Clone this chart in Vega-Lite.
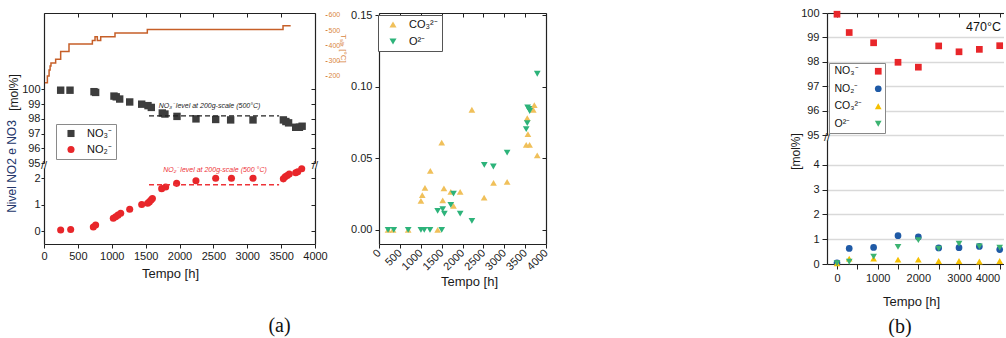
{
  "$schema": "https://vega.github.io/schema/vega-lite/v6.json",
  "background": "white",
  "padding": {"left": 5, "top": 7, "right": 0, "bottom": 0},
  "config": {
    "font": "Liberation Sans",
    "view": {"stroke": null},
    "axis": {"labelFont": "Liberation Sans", "labelFontSize": 11, "labelColor": "#1a1a1a", "titleFont": "Liberation Sans", "titleFontSize": 13, "titleFontWeight": "normal", "titleColor": "#1a1a1a", "domainColor": "#222", "domainWidth": 1.2, "tickColor": "#222", "tickWidth": 1, "tickSize": 4, "grid": false, "labelFlush": false, "labelOverlap": false},
    "axisX": {"titleFontWeight": "normal"},
    "axisY": {"titleFontWeight": "normal"},
    "legend": {"labelFont": "Liberation Sans", "labelFontSize": 11, "labelColor": "#111"}
  },
  "datasets": {
    "l_no3": [
      {"t": 246, "v": 99.95, "s": "NO₃⁻"}, {"t": 384, "v": 99.95, "s": "NO₃⁻"}, {"t": 738, "v": 99.85, "s": "NO₃⁻"}, {"t": 762, "v": 99.8, "s": "NO₃⁻"},
      {"t": 1033, "v": 99.55, "s": "NO₃⁻"}, {"t": 1066, "v": 99.5, "s": "NO₃⁻"}, {"t": 1117, "v": 99.35, "s": "NO₃⁻"}, {"t": 1265, "v": 99.15, "s": "NO₃⁻"},
      {"t": 1442, "v": 99.0, "s": "NO₃⁻"}, {"t": 1535, "v": 98.9, "s": "NO₃⁻"}, {"t": 1584, "v": 98.78, "s": "NO₃⁻"}, {"t": 1746, "v": 98.4, "s": "NO₃⁻"},
      {"t": 1785, "v": 98.33, "s": "NO₃⁻"}, {"t": 1963, "v": 98.17, "s": "NO₃⁻"}, {"t": 2243, "v": 98.0, "s": "NO₃⁻"}, {"t": 2534, "v": 97.96, "s": "NO₃⁻"},
      {"t": 2755, "v": 97.93, "s": "NO₃⁻"}, {"t": 3085, "v": 97.93, "s": "NO₃⁻"}, {"t": 3533, "v": 97.93, "s": "NO₃⁻"}, {"t": 3570, "v": 97.82, "s": "NO₃⁻"},
      {"t": 3610, "v": 97.73, "s": "NO₃⁻"}, {"t": 3715, "v": 97.43, "s": "NO₃⁻"}, {"t": 3770, "v": 97.43, "s": "NO₃⁻"}, {"t": 3810, "v": 97.5, "s": "NO₃⁻"}
    ],
    "l_no2": [
      {"t": 246, "v": 0.04}, {"t": 394, "v": 0.06}, {"t": 728, "v": 0.15}, {"t": 762, "v": 0.23}, {"t": 1023, "v": 0.48}, {"t": 1058, "v": 0.54},
      {"t": 1092, "v": 0.6}, {"t": 1132, "v": 0.67}, {"t": 1265, "v": 0.82}, {"t": 1442, "v": 1.0}, {"t": 1530, "v": 1.05}, {"t": 1555, "v": 1.1},
      {"t": 1580, "v": 1.17}, {"t": 1600, "v": 1.23}, {"t": 1737, "v": 1.6}, {"t": 1796, "v": 1.66}, {"t": 1958, "v": 1.8}, {"t": 2243, "v": 1.9},
      {"t": 2534, "v": 1.99}, {"t": 2767, "v": 1.99}, {"t": 3085, "v": 1.99}, {"t": 3533, "v": 1.97}, {"t": 3560, "v": 2.05}, {"t": 3590, "v": 2.1},
      {"t": 3620, "v": 2.15}, {"t": 3715, "v": 2.2}, {"t": 3745, "v": 2.24}, {"t": 3804, "v": 2.35}
    ],
    "temp": [
      {"t": 15, "T": 156}, {"t": 50, "T": 200}, {"t": 75, "T": 240}, {"t": 90, "T": 265}, {"t": 103, "T": 285}, {"t": 172, "T": 310},
      {"t": 246, "T": 360}, {"t": 369, "T": 410}, {"t": 714, "T": 432}, {"t": 753, "T": 458}, {"t": 787, "T": 432}, {"t": 837, "T": 458},
      {"t": 1048, "T": 482}, {"t": 1525, "T": 505}, {"t": 3528, "T": 530}, {"t": 3641, "T": 530}
    ],
    "l_ref3": [{"t1": 1550, "t2": 3470, "v": 98.2}],
    "l_ref2": [{"t1": 1550, "t2": 3470, "v": 1.75}],
    "l_lab3": [{"t": 2443, "v": 98.9, "label": "NO₃⁻ level at 200g-scale (500°C)"}],
    "l_lab2": [{"t": 2524, "v": 2.3, "label": "NO₂⁻ level at 200g-scale (500 °C)"}],
    "l_brk": [{"t": 0, "v": 95}, {"t": 4000, "v": 95}],
    "r_brk": [{"t": -246, "v": 95}],
    "m_co3": [
      {"t": 217, "v": 0, "s": "CO₃²⁻"}, {"t": 337, "v": 0, "s": "CO₃²⁻"}, {"t": 699, "v": 0, "s": "CO₃²⁻"}, {"t": 1405, "v": 0, "s": "CO₃²⁻"},
      {"t": 1004, "v": 0.0203, "s": "CO₃²⁻"}, {"t": 1036, "v": 0.0243, "s": "CO₃²⁻"}, {"t": 1101, "v": 0.0293, "s": "CO₃²⁻"}, {"t": 1229, "v": 0.0412, "s": "CO₃²⁻"},
      {"t": 1502, "v": 0.061, "s": "CO₃²⁻"}, {"t": 1526, "v": 0.0207, "s": "CO₃²⁻"}, {"t": 1555, "v": 0.029, "s": "CO₃²⁻"}, {"t": 1719, "v": 0.0266, "s": "CO₃²⁻"},
      {"t": 1784, "v": 0.0168, "s": "CO₃²⁻"}, {"t": 1944, "v": 0.0266, "s": "CO₃²⁻"}, {"t": 2225, "v": 0.0839, "s": "CO₃²⁻"}, {"t": 2518, "v": 0.0226, "s": "CO₃²⁻"},
      {"t": 2743, "v": 0.0328, "s": "CO₃²⁻"}, {"t": 3069, "v": 0.0335, "s": "CO₃²⁻"}, {"t": 3526, "v": 0.0594, "s": "CO₃²⁻"}, {"t": 3551, "v": 0.078, "s": "CO₃²⁻"},
      {"t": 3567, "v": 0.0669, "s": "CO₃²⁻"}, {"t": 3607, "v": 0.0594, "s": "CO₃²⁻"}, {"t": 3695, "v": 0.0839, "s": "CO₃²⁻"}, {"t": 3720, "v": 0.0871, "s": "CO₃²⁻"},
      {"t": 3790, "v": 0.052, "s": "CO₃²⁻"}
    ],
    "m_o2": [
      {"t": 217, "v": 0, "s": "O²⁻"}, {"t": 354, "v": 0, "s": "O²⁻"}, {"t": 699, "v": 0, "s": "O²⁻"}, {"t": 1004, "v": 0, "s": "O²⁻"},
      {"t": 1084, "v": 0, "s": "O²⁻"}, {"t": 1221, "v": 0, "s": "O²⁻"}, {"t": 1502, "v": 0, "s": "O²⁻"}, {"t": 1405, "v": 0.0133, "s": "O²⁻"},
      {"t": 1526, "v": 0.0145, "s": "O²⁻"}, {"t": 1566, "v": 0.0114, "s": "O²⁻"}, {"t": 1719, "v": 0.0175, "s": "O²⁻"}, {"t": 1784, "v": 0.0254, "s": "O²⁻"},
      {"t": 1944, "v": 0.0114, "s": "O²⁻"}, {"t": 2225, "v": 0.0063, "s": "O²⁻"}, {"t": 2522, "v": 0.0454, "s": "O²⁻"}, {"t": 2739, "v": 0.0443, "s": "O²⁻"},
      {"t": 3069, "v": 0.054, "s": "O²⁻"}, {"t": 3526, "v": 0.0704, "s": "O²⁻"}, {"t": 3551, "v": 0.0746, "s": "O²⁻"}, {"t": 3560, "v": 0.0855, "s": "O²⁻"},
      {"t": 3591, "v": 0.0844, "s": "O²⁻"}, {"t": 3610, "v": 0.083, "s": "O²⁻"}, {"t": 3791, "v": 0.109, "s": "O²⁻"}
    ],
    "r_no3": [
      {"t": 0, "v": 99.95, "s": "NO₃⁻"}, {"t": 300, "v": 99.2, "s": "NO₃⁻"}, {"t": 900, "v": 98.78, "s": "NO₃⁻"}, {"t": 1500, "v": 97.98, "s": "NO₃⁻"},
      {"t": 2000, "v": 97.78, "s": "NO₃⁻"}, {"t": 2500, "v": 98.65, "s": "NO₃⁻"}, {"t": 3000, "v": 98.41, "s": "NO₃⁻"}, {"t": 3500, "v": 98.51, "s": "NO₃⁻"},
      {"t": 4000, "v": 98.66, "s": "NO₃⁻"}
    ],
    "r_low": [
      {"t": 0, "v": 0.05, "s": "NO₂⁻"}, {"t": 300, "v": 0.63, "s": "NO₂⁻"}, {"t": 900, "v": 0.67, "s": "NO₂⁻"}, {"t": 1500, "v": 1.14, "s": "NO₂⁻"}, {"t": 2000, "v": 1.09, "s": "NO₂⁻"},
      {"t": 2500, "v": 0.65, "s": "NO₂⁻"}, {"t": 3000, "v": 0.66, "s": "NO₂⁻"}, {"t": 3500, "v": 0.71, "s": "NO₂⁻"}, {"t": 4000, "v": 0.58, "s": "NO₂⁻"},
      {"t": 0, "v": 0.03, "s": "CO₃²⁻"}, {"t": 300, "v": 0.22, "s": "CO₃²⁻"}, {"t": 900, "v": 0.22, "s": "CO₃²⁻"}, {"t": 1500, "v": 0.18, "s": "CO₃²⁻"}, {"t": 2000, "v": 0.18, "s": "CO₃²⁻"},
      {"t": 2500, "v": 0.12, "s": "CO₃²⁻"}, {"t": 3000, "v": 0.12, "s": "CO₃²⁻"}, {"t": 3500, "v": 0.1, "s": "CO₃²⁻"}, {"t": 4000, "v": 0.12, "s": "CO₃²⁻"},
      {"t": 0, "v": 0.03, "s": "O²⁻"}, {"t": 300, "v": 0.09, "s": "O²⁻"}, {"t": 900, "v": 0.3, "s": "O²⁻"}, {"t": 1500, "v": 0.69, "s": "O²⁻"}, {"t": 2000, "v": 0.96, "s": "O²⁻"},
      {"t": 2500, "v": 0.62, "s": "O²⁻"}, {"t": 3000, "v": 0.82, "s": "O²⁻"}, {"t": 3500, "v": 0.71, "s": "O²⁻"}, {"t": 4000, "v": 0.66, "s": "O²⁻"}
    ]
  },
  "bounds": "flush",
  "spacing": 783,
  "resolve": {"scale": {"color": "independent", "shape": "independent"}},
  "hconcat": [
    {
      "bounds": "flush",
      "spacing": 335,
      "resolve": {"scale": {"color": "independent", "shape": "independent"}},
      "hconcat": [
        {
          "bounds": "flush",
          "spacing": 5,
          "resolve": {"scale": {"color": "independent", "shape": "independent"}},
          "vconcat": [
            {
              "width": 271, "height": 150,
              "layer": [
                {
                  "layer": [
                    {
                      "data": {"name": "l_no3"},
                      "mark": {"type": "point", "filled": true, "size": 55, "opacity": 1},
                      "encoding": {
                        "x": {"field": "t", "type": "quantitative", "scale": {"domain": [0, 4000], "nice": false}, "axis": {"orient": "top", "labels": false, "title": null, "values": [0, 500, 1000, 1500, 2000, 2500, 3000, 3500, 4000], "tickSize": -4}},
                        "y": {"field": "v", "type": "quantitative", "scale": {"domain": [95, 105.2], "nice": false, "zero": false}, "axis": {"orient": "left", "values": [95, 96, 97, 98, 99, 100], "tickSize": 3, "labelPadding": 1, "title": "[mol%]", "titleFontSize": 12, "titleFontWeight": "normal", "titleAngle": -90, "titleBaseline": "bottom", "titleAlign": "center", "titleX": -24, "titleY": 79}},
                        "color": {"field": "s", "type": "nominal", "scale": {"domain": ["NO₃⁻", "NO₂⁻"], "range": ["#3d3d3d", "#e8262a"]}, "legend": {"orient": "none", "legendX": 12, "legendY": 111, "title": null, "strokeColor": "#8a8a8a", "fillColor": "white", "padding": 4, "symbolOffset": 5.5, "labelOffset": 10.5, "rowPadding": 4, "symbolSize": 50, "symbolStrokeWidth": 0}},
                        "shape": {"field": "s", "type": "nominal", "scale": {"domain": ["NO₃⁻", "NO₂⁻"], "range": ["square", "circle"]}, "legend": {"orient": "none", "legendX": 12, "legendY": 111, "title": null, "strokeColor": "#8a8a8a", "fillColor": "white", "padding": 4, "symbolOffset": 5.5, "labelOffset": 10.5, "rowPadding": 4, "symbolSize": 50, "symbolStrokeWidth": 0}}
                      }
                    },
                    {
                      "data": {"name": "l_ref3"},
                      "mark": {"type": "rule", "strokeDash": [5, 3], "color": "#222", "strokeWidth": 1.3},
                      "encoding": {
                        "x": {"field": "t1", "type": "quantitative", "scale": {"domain": [0, 4000], "nice": false}, "axis": null},
                        "x2": {"field": "t2"},
                        "y": {"field": "v", "type": "quantitative", "scale": {"domain": [95, 105.2], "nice": false, "zero": false}, "axis": {"orient": "right", "labels": false, "title": null, "values": [95, 96, 97, 98, 99, 100], "tickSize": -4}}
                      }
                    },
                    {
                      "data": {"name": "l_lab3"},
                      "mark": {"type": "text", "fontStyle": "italic", "fontSize": 7, "color": "#222"},
                      "encoding": {
                        "x": {"field": "t", "type": "quantitative", "scale": {"domain": [0, 4000], "nice": false}, "axis": null},
                        "y": {"field": "v", "type": "quantitative", "scale": {"domain": [95, 105.2], "nice": false, "zero": false}, "axis": null},
                        "text": {"field": "label"}
                      }
                    },
                    {
                      "data": {"name": "l_brk"},
                      "mark": {"type": "text", "text": "//", "fontSize": 11, "color": "#222", "baseline": "middle", "dy": 3},
                      "encoding": {
                        "x": {"field": "t", "type": "quantitative", "scale": {"domain": [0, 4000], "nice": false}, "axis": null},
                        "y": {"field": "v", "type": "quantitative", "scale": {"domain": [95, 105.2], "nice": false, "zero": false}, "axis": null}
                      }
                    }
                  ],
                  "resolve": {"axis": {"x": "independent", "y": "independent"}}
                },
                {
                  "data": {"name": "temp"},
                  "mark": {"type": "line", "interpolate": "step-after", "color": "#c65f28", "strokeWidth": 1.5},
                  "encoding": {
                    "x": {"field": "t", "type": "quantitative", "scale": {"domain": [0, 4000], "nice": false}, "axis": null},
                    "y": {"field": "T", "type": "quantitative", "scale": {"domain": [-370.5, 613.1], "nice": false, "zero": false}, "axis": {"orient": "right", "offset": 10, "values": [200, 300, 400, 500, 600], "domain": false, "tickColor": "#d9863f", "labelColor": "#d9863f", "labelFontSize": 7, "tickSize": 2, "labelPadding": 1, "title": "Tₛₐₗₜ [°C]", "titleColor": "#d9863f", "titleFontSize": 8, "titleFontWeight": "normal", "titleAngle": 90, "titleX": 17, "titleY": 35, "titleBaseline": "middle", "titleAlign": "center"}}
                  }
                }
              ],
              "resolve": {"scale": {"y": "independent"}, "axis": {"x": "independent", "y": "independent"}}
            },
            {
              "width": 271, "height": 76,
              "title": {"text": "(a)", "orient": "bottom", "frame": "group", "anchor": "middle", "font": "Liberation Serif", "fontSize": 20, "fontWeight": "normal", "color": "#111", "offset": 36, "dx": 100},
              "layer": [
                {
                  "data": {"name": "l_no2"},
                  "mark": {"type": "point", "filled": true, "shape": "circle", "size": 50, "color": "#e8262a", "opacity": 1},
                  "encoding": {
                    "x": {"field": "t", "type": "quantitative", "scale": {"domain": [0, 4000], "nice": false}, "axis": {"orient": "bottom", "values": [0, 500, 1000, 1500, 2000, 2500, 3000, 3500, 4000], "format": "d", "tickSize": 4, "labelPadding": 2, "title": "Tempo [h]", "titleFontWeight": "normal", "titleX": 126, "titlePadding": 6}},
                    "y": {"field": "v", "type": "quantitative", "scale": {"domain": [-0.49, 2.38], "nice": false, "zero": false}, "axis": {"orient": "left", "values": [0, 1, 2], "tickSize": 3, "labelPadding": 1, "title": "Nivel NO2 e NO3", "titleColor": "#24366b", "titleFontSize": 12, "titleFontWeight": "normal", "titleAngle": -90, "titleBaseline": "bottom", "titleAlign": "center", "titleX": -26, "titleY": -2}}
                  }
                },
                {
                  "data": {"name": "l_ref2"},
                  "mark": {"type": "rule", "strokeDash": [5, 3], "color": "#ee3338", "strokeWidth": 1.5},
                  "encoding": {
                    "x": {"field": "t1", "type": "quantitative", "scale": {"domain": [0, 4000], "nice": false}, "axis": null},
                    "x2": {"field": "t2"},
                    "y": {"field": "v", "type": "quantitative", "scale": {"domain": [-0.49, 2.38], "nice": false, "zero": false}, "axis": {"orient": "right", "labels": false, "title": null, "values": [0, 1, 2], "tickSize": -4}}
                  }
                },
                {
                  "data": {"name": "l_lab2"},
                  "mark": {"type": "text", "fontStyle": "italic", "fontSize": 7, "color": "#ee3338"},
                  "encoding": {
                    "x": {"field": "t", "type": "quantitative", "scale": {"domain": [0, 4000], "nice": false}, "axis": null},
                    "y": {"field": "v", "type": "quantitative", "scale": {"domain": [-0.49, 2.38], "nice": false, "zero": false}, "axis": null},
                    "text": {"field": "label"}
                  }
                }
              ],
              "resolve": {"axis": {"x": "independent", "y": "independent"}}
            }
          ]
        },
        {
          "width": 167, "height": 231,
          "layer": [
            {
              "data": {"name": "m_co3"},
              "mark": {"type": "point", "filled": true, "size": 45, "opacity": 1},
              "encoding": {
                "x": {"field": "t", "type": "quantitative", "scale": {"domain": [0, 4000], "nice": false}, "axis": {"orient": "bottom", "values": [0, 500, 1000, 1500, 2000, 2500, 3000, 3500, 4000], "format": "d", "labelAngle": -45, "labelAlign": "right", "labelBaseline": "middle", "labelPadding": 3, "title": "Tempo [h]", "titleFontWeight": "normal", "titleX": 90}},
                "y": {"field": "v", "type": "quantitative", "scale": {"domain": [-0.0098, 0.1514], "nice": false, "zero": false}, "axis": {"orient": "left", "values": [0, 0.05, 0.1, 0.15], "format": ".2f", "tickSize": 4, "labelPadding": 3, "title": null}},
                "color": {"field": "s", "type": "nominal", "scale": {"domain": ["CO₃²⁻", "O²⁻"], "range": ["#f0c05a", "#2db37a"]}, "legend": {"orient": "none", "legendX": -1, "legendY": 2, "title": null, "strokeColor": "#555", "fillColor": "white", "padding": 4, "symbolOffset": 5.5, "labelOffset": 10.5, "rowPadding": 5, "symbolSize": 50, "symbolStrokeWidth": 0}},
                "shape": {"field": "s", "type": "nominal", "scale": {"domain": ["CO₃²⁻", "O²⁻"], "range": ["triangle-up", "triangle-down"]}, "legend": {"orient": "none", "legendX": -1, "legendY": 2, "title": null, "strokeColor": "#555", "fillColor": "white", "padding": 4, "symbolOffset": 5.5, "labelOffset": 10.5, "rowPadding": 5, "symbolSize": 50, "symbolStrokeWidth": 0}}
              }
            },
            {
              "data": {"name": "m_o2"},
              "mark": {"type": "point", "filled": true, "size": 45, "opacity": 1},
              "encoding": {
                "x": {"field": "t", "type": "quantitative", "scale": {"domain": [0, 4000], "nice": false}, "axis": {"orient": "top", "labels": false, "title": null, "values": [0, 500, 1000, 1500, 2000, 2500, 3000, 3500, 4000], "tickSize": -4}},
                "y": {"field": "v", "type": "quantitative", "scale": {"domain": [-0.0098, 0.1514], "nice": false, "zero": false}, "axis": {"orient": "right", "labels": false, "title": null, "values": [0, 0.05, 0.1, 0.15], "tickSize": -4}},
                "color": {"field": "s", "type": "nominal", "scale": {"domain": ["CO₃²⁻", "O²⁻"], "range": ["#f0c05a", "#2db37a"]}, "legend": {"orient": "none", "legendX": -1, "legendY": 2, "title": null, "strokeColor": "#555", "fillColor": "white", "padding": 4, "symbolOffset": 5.5, "labelOffset": 10.5, "rowPadding": 5, "symbolSize": 50, "symbolStrokeWidth": 0}},
                "shape": {"field": "s", "type": "nominal", "scale": {"domain": ["CO₃²⁻", "O²⁻"], "range": ["triangle-up", "triangle-down"]}, "legend": {"orient": "none", "legendX": -1, "legendY": 2, "title": null, "strokeColor": "#555", "fillColor": "white", "padding": 4, "symbolOffset": 5.5, "labelOffset": 10.5, "rowPadding": 5, "symbolSize": 50, "symbolStrokeWidth": 0}}
              }
            }
          ],
          "resolve": {"axis": {"x": "independent", "y": "independent"}}
        }
      ]
    },
    {
      "bounds": "flush",
      "spacing": 5,
      "resolve": {"scale": {"color": "independent", "shape": "independent"}},
      "vconcat": [
        {
          "width": 177, "height": 122,
          "layer": [
            {
              "data": {"name": "r_no3"},
              "mark": {"type": "point", "filled": true, "size": 45, "opacity": 1},
              "encoding": {
                "x": {"field": "t", "type": "quantitative", "scale": {"domain": [-246, 4106], "nice": false, "zero": false}, "axis": {"orient": "top", "labels": false, "values": [0, 500, 1000, 1500, 2000, 2500, 3000, 3500, 4000], "tickSize": -4, "title": "470°C", "titleFontSize": 12.5, "titleFontWeight": "normal", "titleColor": "#111", "titleAngle": 0, "titleX": 156, "titleY": 13, "titleAlign": "center", "titleBaseline": "middle"}},
                "y": {"field": "v", "type": "quantitative", "scale": {"domain": [95, 100], "nice": false, "zero": false}, "axis": {"orient": "left", "values": [95, 96, 97, 98, 99, 100], "grid": true, "gridColor": "#d9d9d9", "gridWidth": 1.5, "tickSize": 5, "labelPadding": 3, "title": null}},
                "color": {"field": "s", "type": "nominal", "scale": {"domain": ["NO₃⁻", "NO₂⁻", "CO₃²⁻", "O²⁻"], "range": ["#e8262a", "#1f5aa6", "#f5c000", "#3cb371"]}, "legend": {"orient": "none", "legendX": 2, "legendY": 50, "title": null, "strokeColor": "#888", "fillColor": "white", "padding": 3, "symbolOffset": 41, "labelOffset": -49, "rowPadding": 6.5, "symbolSize": 45, "symbolStrokeWidth": 0, "labelFontSize": 10.5}},
                "shape": {"field": "s", "type": "nominal", "scale": {"domain": ["NO₃⁻", "NO₂⁻", "CO₃²⁻", "O²⁻"], "range": ["square", "circle", "triangle-up", "triangle-down"]}, "legend": {"orient": "none", "legendX": 2, "legendY": 50, "title": null, "strokeColor": "#888", "fillColor": "white", "padding": 3, "symbolOffset": 41, "labelOffset": -49, "rowPadding": 6.5, "symbolSize": 45, "symbolStrokeWidth": 0, "labelFontSize": 10.5}}
              }
            },
            {
              "data": {"name": "r_brk"},
              "mark": {"type": "text", "text": "//", "fontSize": 11, "color": "#222", "baseline": "middle", "dy": 3},
              "encoding": {
                "x": {"field": "t", "type": "quantitative", "scale": {"domain": [-246, 4106], "nice": false, "zero": false}, "axis": null},
                "y": {"field": "v", "type": "quantitative", "scale": {"domain": [95, 100], "nice": false, "zero": false}, "axis": null}
              }
            }
          ],
          "resolve": {"axis": {"x": "independent", "y": "independent"}}
        },
        {
          "width": 177, "height": 124,
          "title": {"text": "(b)", "orient": "bottom", "frame": "group", "anchor": "middle", "font": "Liberation Serif", "fontSize": 20, "fontWeight": "normal", "color": "#111", "offset": 9, "dx": -15.5},
          "data": {"name": "r_low"},
          "mark": {"type": "point", "filled": true, "size": 45, "opacity": 1},
          "encoding": {
            "x": {"field": "t", "type": "quantitative", "scale": {"domain": [-246, 4106], "nice": false, "zero": false}, "axis": {"orient": "bottom", "values": [0, 500, 1000, 1500, 2000, 2500, 3000, 3500, 4000], "format": "d", "labelExpr": "datum.value % 1000 === 0 ? datum.label : ''", "labelFlush": 5, "tickSize": 5, "labelPadding": 3, "title": "Tempo [h]", "titleFontWeight": "normal", "titleX": 84, "titlePadding": 12}},
            "y": {"field": "v", "type": "quantitative", "scale": {"domain": [0, 5], "nice": false, "zero": false}, "axis": {"orient": "left", "values": [0, 1, 2, 3, 4], "grid": true, "gridColor": "#d9d9d9", "gridWidth": 1.5, "tickSize": 5, "labelPadding": 3, "title": "[mol%]", "titleFontSize": 12, "titleFontWeight": "normal", "titleAngle": -90, "titleBaseline": "bottom", "titleAlign": "center", "titleX": -25, "titleY": 11}},
            "color": {"field": "s", "type": "nominal", "scale": {"domain": ["NO₂⁻", "CO₃²⁻", "O²⁻"], "range": ["#1f5aa6", "#f5c000", "#3cb371"]}, "legend": null},
            "shape": {"field": "s", "type": "nominal", "scale": {"domain": ["NO₂⁻", "CO₃²⁻", "O²⁻"], "range": ["circle", "triangle-up", "triangle-down"]}, "legend": null}
          }
        }
      ]
    }
  ]
}
